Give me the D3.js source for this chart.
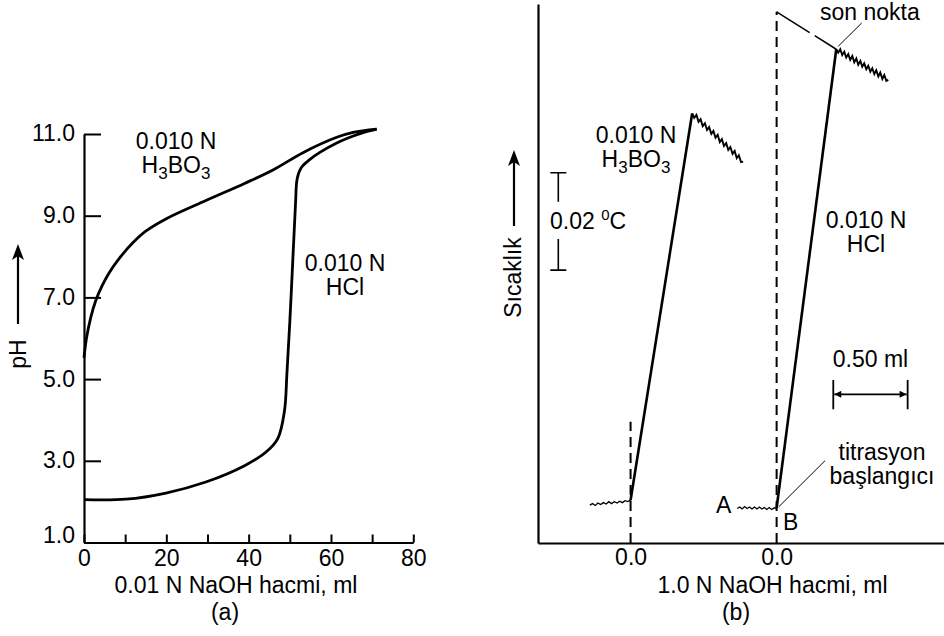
<!DOCTYPE html>
<html>
<head>
<meta charset="utf-8">
<script src="https://cdn.jsdelivr.net/npm/d3@7"></script>
<style>
  html, body { margin: 0; padding: 0; background: #fff; }
  svg text { font-family: "Liberation Sans", Arial, Helvetica, sans-serif; font-size: 23px; fill: #000; }
</style>
</head>
<body>
<div id="chart"></div>
<script>
// ---- (a) pH titration curves: NaOH volume (ml) vs pH ----
const boricVolume = [0, 0.57, 1.62, 2.84, 4.47, 6.09, 8.53, 11.8, 15.0, 19.9, 29.6, 39.0, 45.9, 53.3, 61.4, 65.4, 71.1];
const boricPH     = [5.52, 5.98, 6.50, 6.92, 7.30, 7.60, 7.95, 8.33, 8.62, 8.92, 9.37, 9.79, 10.12, 10.55, 10.92, 11.04, 11.12];

const hclVolume = [0, 10.2, 19.9, 29.6, 39.0, 44.3, 47.1, 48.7, 49.3, 50.0, 50.8, 51.4, 51.8, 52.8, 54.9, 57.3, 61.4, 64.6, 68.0, 71.1];
const hclPH     = [2.05, 2.06, 2.21, 2.48, 2.88, 3.22, 3.55, 4.22, 5.14, 6.40, 8.07, 9.33, 9.91, 10.18, 10.38, 10.55, 10.78, 10.92, 11.04, 11.12];

const phTicks = [1, 3, 5, 7, 9, 11];
const volumeTicks = [0, 10, 20, 30, 40, 50, 60, 70, 80];

// ---- (b) thermometric titration: 1.0 N NaOH volume (ml) vs temperature rise (C) ----
// H3BO3 run: baseline before titrant, rise, cooling after end point
const boricBaseVol  = [-0.274, -0.256, -0.238, -0.219, -0.201, -0.183, -0.164, -0.146, -0.128, -0.110, -0.091, -0.073, -0.055, -0.037, -0.018, 0.000];
const boricBaseTemp = [0.0078, 0.0081, 0.0077, 0.0082, 0.0079, 0.0083, 0.0080, 0.0085, 0.0081, 0.0085, 0.0082, 0.0086, 0.0083, 0.0087, 0.0085, 0.0088];
const boricRiseVol  = [0.000, 0.414];
const boricRiseTemp = [0.0088, 0.0883];
const boricCoolVol  = [0.414, 0.428, 0.443, 0.457, 0.471, 0.485, 0.500, 0.514, 0.528, 0.543, 0.557, 0.571, 0.586,
                       0.600, 0.614, 0.628, 0.643, 0.657, 0.671, 0.686, 0.700, 0.714, 0.728, 0.743, 0.757];
const boricCoolTemp = [0.0883, 0.0874, 0.0880, 0.0866, 0.0871, 0.0857, 0.0863, 0.0849, 0.0855, 0.0841, 0.0847, 0.0833, 0.0839,
                       0.0824, 0.0830, 0.0816, 0.0822, 0.0808, 0.0814, 0.0800, 0.0806, 0.0791, 0.0797, 0.0783, 0.0784];
const boricZeroTop = 0.0249;

// HCl run
const hclBaseVol  = [-0.265, -0.248, -0.232, -0.215, -0.199, -0.182, -0.166, -0.149, -0.132, -0.116, -0.099, -0.083, -0.066, -0.050, -0.033, -0.017, 0.000];
const hclBaseTemp = [0.0071, 0.0074, 0.0070, 0.0075, 0.0071, 0.0074, 0.0070, 0.0074, 0.0070, 0.0074, 0.0070, 0.0073, 0.0069, 0.0073, 0.0069, 0.0072, 0.0072];
const hclRiseVol  = [0.000, 0.401];
const hclRiseTemp = [0.0072, 0.1015];
const hclCoolVol  = [0.401, 0.414, 0.428, 0.441, 0.455, 0.468, 0.482, 0.495, 0.509, 0.522, 0.536, 0.549, 0.563, 0.576,
                     0.589, 0.603, 0.616, 0.630, 0.643, 0.657, 0.670, 0.684, 0.697, 0.711, 0.724, 0.738, 0.751];
const hclCoolTemp = [0.1015, 0.1008, 0.1015, 0.1003, 0.1010, 0.0998, 0.1005, 0.0993, 0.1001, 0.0988, 0.0996, 0.0983, 0.0991, 0.0979,
                     0.0986, 0.0974, 0.0981, 0.0969, 0.0976, 0.0964, 0.0972, 0.0959, 0.0967, 0.0954, 0.0962, 0.0950, 0.0952];
const hclExtrapVol  = [0.000, 0.401];
const hclExtrapTemp = [0.1092, 0.1015];

// scale bars
const tempBarTop = 0.0761;   // upper end of the 0.02 C bar
const tempBarSpan = 0.02;
const volBarStart = 0.381;   // left end of the 0.50 ml bar (HCl volume units)
const volBarSpan = 0.50;

const zip = (a, b) => a.map((v, i) => [v, b[i]]);

const svg = d3.select("#chart")
  .append("svg")
  .attr("width", 944)
  .attr("height", 636);

const defs = svg.append("defs");
defs.append("marker")
  .attr("id", "smallHead")
  .attr("viewBox", "0 0 10 10")
  .attr("refX", 10).attr("refY", 5)
  .attr("markerWidth", 12).attr("markerHeight", 7)
  .attr("markerUnits", "userSpaceOnUse")
  .attr("orient", "auto-start-reverse")
  .append("path").attr("d", "M0,0 L10,5 L0,10 z").attr("fill", "#000");

/**
 * styleAxis
 * Purpose: strip d3's default axis font so the page css wins, set line weights.
 */
function styleAxis(g, width) {
  g.attr("font-size", null).attr("font-family", null);
  g.select(".domain").attr("stroke", "#000").attr("stroke-width", width);
  g.selectAll(".tick line").attr("stroke", "#000").attr("stroke-width", 2);
  g.selectAll(".tick text").attr("fill", "#000");
}

/**
 * addFormula
 * Purpose: writes H3BO3 with subscripts.
 */
function addFormula(x, y, anchor) {
  const t = svg.append("text").attr("x", x).attr("y", y).attr("text-anchor", anchor);
  t.append("tspan").text("H");
  t.append("tspan").attr("font-size", "17px").attr("dy", 6).text("3");
  t.append("tspan").attr("dy", -6).text("BO");
  t.append("tspan").attr("font-size", "17px").attr("dy", 6).text("3");
  return t;
}

/**
 * upArrow
 * Purpose: vertical arrow pointing up (axis direction hints).
 */
function upArrow(x, yBottom, yTop) {
  svg.append("line")
    .attr("x1", x).attr("y1", yBottom).attr("x2", x).attr("y2", yTop + 8)
    .attr("stroke", "#000").attr("stroke-width", 2.2);
  svg.append("path")
    .attr("d", "M" + x + "," + yTop + "L" + (x + 6) + "," + (yTop + 16) +
               "L" + x + "," + (yTop + 12) + "L" + (x - 6) + "," + (yTop + 16) + "Z")
    .attr("fill", "#000");
}

//**************************************************************************
// Panel (a)
const xA = d3.scaleLinear().domain([0, 80]).range([84, 413.3]);
const yA = d3.scaleLinear().domain([1, 11]).range([542.5, 134]);

const xAxisA = svg.append("g")
  .attr("transform", "translate(0," + yA(1) + ")")
  .call(d3.axisBottom(xA)
    .tickValues(volumeTicks)
    .tickSize(-8)
    .tickSizeOuter(0)
    .tickPadding(7)
    .tickFormat(d => d % 20 === 0 ? d : ""));
styleAxis(xAxisA, 2.2);

const yAxisA = svg.append("g")
  .attr("transform", "translate(" + xA(0) + ",0)")
  .call(d3.axisLeft(yA)
    .tickValues(phTicks)
    .tickSize(-17)
    .tickSizeOuter(0)
    .tickPadding(9)
    .tickFormat(d3.format(".1f")));
styleAxis(yAxisA, 2.2);
yAxisA.selectAll(".tick text").attr("dy", d => d === 1 ? "0.02em" : "0.3em");

const curveA = d3.line()
  .x(d => xA(d[0]))
  .y(d => yA(d[1]))
  .curve(d3.curveCatmullRom.alpha(0.5));

svg.append("path")
  .attr("d", curveA(zip(boricVolume, boricPH)))
  .attr("fill", "none").attr("stroke", "#000").attr("stroke-width", 2.8);
svg.append("path")
  .attr("d", curveA(zip(hclVolume, hclPH)))
  .attr("fill", "none").attr("stroke", "#000").attr("stroke-width", 2.8);

svg.append("text").attr("x", 176).attr("y", 149).attr("text-anchor", "middle").text("0.010 N");
addFormula(176, 173, "middle");
svg.append("text").attr("x", 345).attr("y", 271).attr("text-anchor", "middle").text("0.010 N");
svg.append("text").attr("x", 345).attr("y", 295).attr("text-anchor", "middle").text("HCl");

svg.append("text")
  .attr("transform", "translate(26,354) rotate(-90)")
  .attr("text-anchor", "middle")
  .text("pH");
upArrow(18, 324, 244);

svg.append("text").attr("x", 236).attr("y", 593).attr("text-anchor", "middle").text("0.01 N NaOH hacmi, ml");
svg.append("text").attr("x", 225).attr("y", 620).attr("text-anchor", "middle").text("(a)");

//**************************************************************************
// Panel (b)
const xB = d3.scaleLinear().domain([-0.6225, 2.1075]).range([538, 944]);   // H3BO3 run
const xH = d3.scaleLinear().domain([-1.6045, 1.1255]).range([538, 944]);   // HCl run
const yT = d3.scaleLinear().domain([0, 0.1108]).range([543, 4]);

const yAxisB = svg.append("g")
  .attr("transform", "translate(538,0)")
  .call(d3.axisLeft(yT).tickValues([]).tickSizeOuter(0));
styleAxis(yAxisB, 2.2);

const xAxisB = svg.append("g")
  .attr("transform", "translate(0," + yT(0) + ")")
  .call(d3.axisBottom(xB).tickValues([0]).tickSize(0).tickSizeOuter(0).tickPadding(6).tickFormat(d3.format(".1f")));
styleAxis(xAxisB, 2.2);

const xAxisH = svg.append("g")
  .attr("transform", "translate(0," + yT(0) + ")")
  .call(d3.axisBottom(xH).tickValues([0]).tickSize(0).tickSizeOuter(0).tickPadding(6).tickFormat(d3.format(".1f")));
styleAxis(xAxisH, 2.2);
xAxisH.select(".domain").remove();

const lineB = d3.line().x(d => xB(d[0])).y(d => yT(d[1]));
const lineH = d3.line().x(d => xH(d[0])).y(d => yT(d[1]));

// dashed zero lines
svg.append("path")
  .attr("d", lineB([[0, 0], [0, boricZeroTop]]))
  .attr("stroke", "#000").attr("stroke-width", 2).attr("stroke-dasharray", "10,6");
svg.append("path")
  .attr("d", lineH([[0, 0], [0, hclExtrapTemp[0]]]))
  .attr("stroke", "#000").attr("stroke-width", 2).attr("stroke-dasharray", "10,6");
svg.append("path")
  .attr("d", lineH(zip(hclExtrapVol, hclExtrapTemp)))
  .attr("stroke", "#000").attr("stroke-width", 1.5).attr("stroke-dasharray", "39,6");

// H3BO3 trace
svg.append("path").attr("d", lineB(zip(boricBaseVol, boricBaseTemp)))
  .attr("fill", "none").attr("stroke", "#000").attr("stroke-width", 1.3);
svg.append("path").attr("d", lineB(zip(boricRiseVol, boricRiseTemp)))
  .attr("fill", "none").attr("stroke", "#000").attr("stroke-width", 2.6);
svg.append("path").attr("d", lineB(zip(boricCoolVol, boricCoolTemp)))
  .attr("fill", "none").attr("stroke", "#000").attr("stroke-width", 1.9);

// HCl trace
svg.append("path").attr("d", lineH(zip(hclBaseVol, hclBaseTemp)))
  .attr("fill", "none").attr("stroke", "#000").attr("stroke-width", 1.3);
svg.append("path").attr("d", lineH(zip(hclRiseVol, hclRiseTemp)))
  .attr("fill", "none").attr("stroke", "#000").attr("stroke-width", 2.6);
svg.append("path").attr("d", lineH(zip(hclCoolVol, hclCoolTemp)))
  .attr("fill", "none").attr("stroke", "#000").attr("stroke-width", 1.9);

// temperature scale bar
const barX = 558.3;
svg.append("path")
  .attr("d", "M" + (barX - 8) + "," + yT(tempBarTop) + "H" + (barX + 8) +
             "M" + barX + "," + yT(tempBarTop) + "V" + (yT(tempBarTop) + 29) +
             "M" + barX + "," + (yT(tempBarTop - tempBarSpan) - 31) + "V" + yT(tempBarTop - tempBarSpan) +
             "M" + (barX - 8) + "," + yT(tempBarTop - tempBarSpan) + "H" + (barX + 8))
  .attr("fill", "none").attr("stroke", "#000").attr("stroke-width", 1.6);
const tempLabel = svg.append("text").attr("x", 550).attr("y", 229);
tempLabel.append("tspan").text("0.02 ");
tempLabel.append("tspan").attr("font-size", "15px").attr("dy", -9).text("0");
tempLabel.append("tspan").attr("dy", 9).text("C");

// volume scale bar
const vx0 = xH(volBarStart), vx1 = xH(volBarStart + volBarSpan);
svg.append("path")
  .attr("d", "M" + vx0 + ",380V409.3M" + vx1 + ",380V409.3")
  .attr("stroke", "#000").attr("stroke-width", 1.8);
svg.append("line")
  .attr("x1", vx0 + 1).attr("y1", 394.3).attr("x2", vx1 - 1).attr("y2", 394.3)
  .attr("stroke", "#000").attr("stroke-width", 1.8)
  .attr("marker-start", "url(#smallHead)")
  .attr("marker-end", "url(#smallHead)");
svg.append("text").attr("x", (vx0 + vx1) / 2).attr("y", 367).attr("text-anchor", "middle").text("0.50 ml");

// labels
svg.append("text").attr("x", 636).attr("y", 143).attr("text-anchor", "middle").text("0.010 N");
addFormula(636, 167, "middle");
svg.append("text").attr("x", 866).attr("y", 228).attr("text-anchor", "middle").text("0.010 N");
svg.append("text").attr("x", 866).attr("y", 252).attr("text-anchor", "middle").text("HCl");

svg.append("text").attr("x", 820).attr("y", 20).text("son nokta");
const peak = [xH(hclRiseVol[1]), yT(hclRiseTemp[1])];
svg.append("line")
  .attr("x1", peak[0] + 2).attr("y1", peak[1] - 3).attr("x2", 861.7).attr("y2", 23)
  .attr("stroke", "#000").attr("stroke-width", 1);

svg.append("text").attr("x", 882).attr("y", 460).attr("text-anchor", "middle").text("titrasyon");
svg.append("text").attr("x", 882).attr("y", 484).attr("text-anchor", "middle").text("başlangıcı");
const start = [xH(hclRiseVol[0]), yT(hclRiseTemp[0])];
svg.append("line")
  .attr("x1", start[0] + 2).attr("y1", start[1] - 1).attr("x2", 825).attr("y2", 460.7)
  .attr("stroke", "#000").attr("stroke-width", 1);
svg.append("text").attr("x", 716).attr("y", 513).text("A");
svg.append("text").attr("x", 783).attr("y", 530).text("B");

svg.append("text")
  .attr("transform", "translate(521,277.5) rotate(-90)")
  .attr("text-anchor", "middle")
  .text("Sıcaklık");
upArrow(514, 226, 150);

svg.append("text").attr("x", 772.5).attr("y", 593).attr("text-anchor", "middle").text("1.0 N NaOH hacmi, ml");
svg.append("text").attr("x", 736).attr("y", 620).attr("text-anchor", "middle").text("(b)");
</script>
</body>
</html>
